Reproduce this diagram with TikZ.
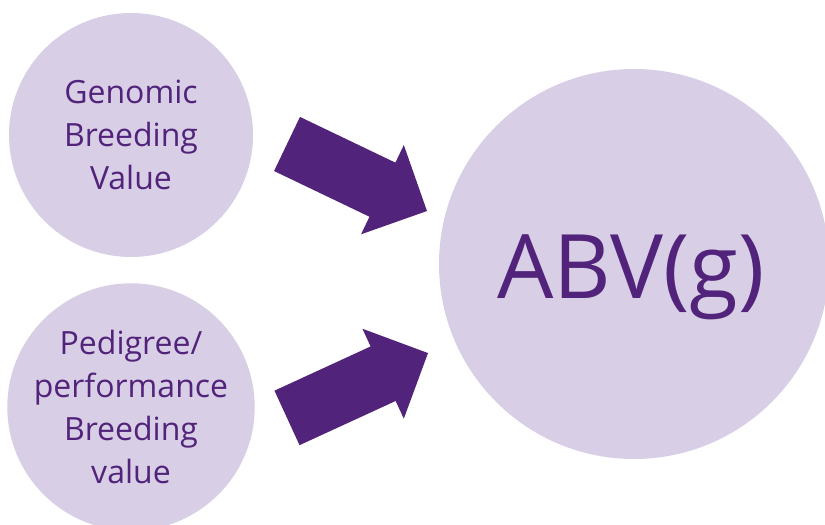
\documentclass[tikz,border=0pt]{standalone}
\usepackage{fontspec}
\setmainfont{Open Sans}
\definecolor{lavender}{HTML}{D8CEE5}
\definecolor{deeppurple}{HTML}{51237A}
\tikzset{
  bubble/.style={circle,fill=lavender,inner sep=0pt,text=deeppurple,align=center,
    font=\fontsize{32}{43}\selectfont},
  fatarrow/.pic={
    \fill[deeppurple] (-77.6,-30)--(28.2,-30)--(28.2,-49.5)--(77.6,0)
      --(28.2,49.5)--(28.2,30)--(-77.6,30)--cycle;
  }
}
\begin{document}
\begin{tikzpicture}[x=1pt,y=1pt]
   \useasboundingbox (0,0) rectangle (825,525);
   \clip (0,0) rectangle (825,525);
   % two inputs on the left, result on the right
   \node[bubble,minimum size=244pt] (gbv) at (131,390) {Genomic\\Breeding\\Value};
   \node[bubble,minimum size=244pt] (pbv) at (131,118) {Pedigree/\\performance\\Breeding\\value};
   \node[bubble,minimum size=390pt] (abv) at (634,261) {};
   \node[text=deeppurple,font=\fontsize{89}{100}\selectfont,anchor=base] (abvtext) at (631,226) {ABV(g)};
   % block arrows
   \pic[rotate=-25.6] at (357,347.5) {fatarrow};
   \pic[rotate=24.7] at (357.5,139.5) {fatarrow};
\end{tikzpicture}
\end{document}
